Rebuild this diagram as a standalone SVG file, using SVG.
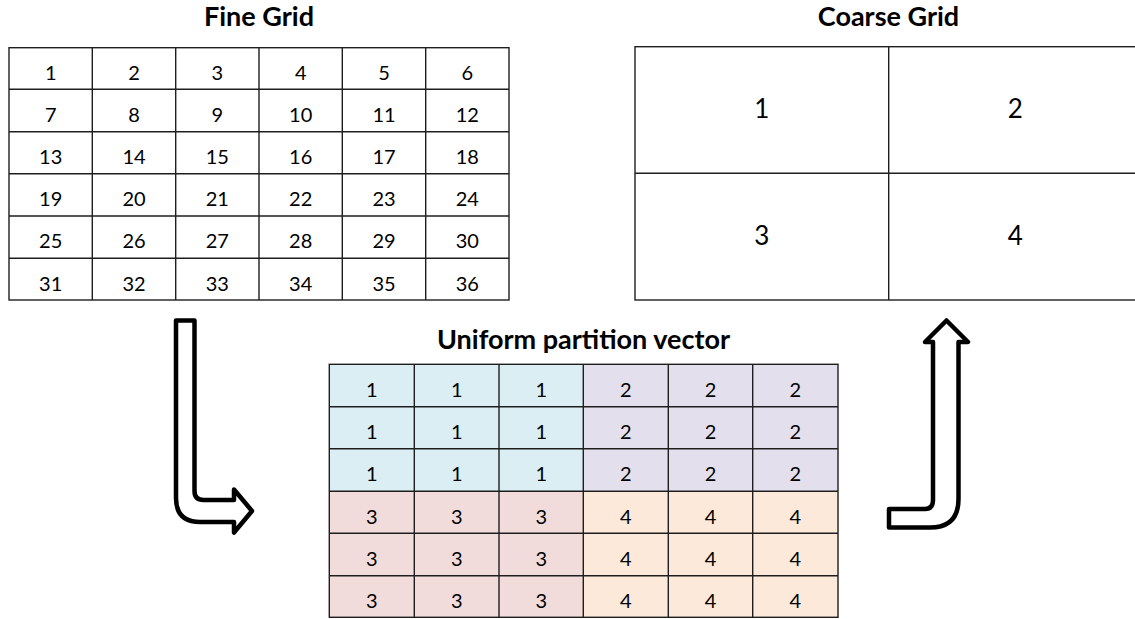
<svg xmlns="http://www.w3.org/2000/svg" width="1135" height="619" viewBox="0 0 1135 619">
<style>
.t{font-family:Lato,"Open Sans","Liberation Sans",sans-serif;font-weight:bold;font-size:27px;fill:#000;text-anchor:middle}
.n{font-family:Lato,"Open Sans","Liberation Sans",sans-serif;font-size:20px;fill:#000;text-anchor:middle}
.nb{font-family:Lato,"Open Sans","Liberation Sans",sans-serif;font-size:26px;fill:#000;text-anchor:middle}
.g{stroke:#1e1e1e;stroke-width:1.4;fill:none}
.arr{stroke:#000;stroke-width:4.5;fill:#fff;stroke-linejoin:round}
</style>
<rect width="1135" height="619" fill="#fff"/>
<g id="fine-grid">
<text class="t" x="259" y="26">Fine Grid</text>
<g class="g">
<rect x="9" y="47.7" width="500" height="252.3"/>
<path d="M92.3,47.7V300M175.7,47.7V300M259,47.7V300M342.3,47.7V300M425.7,47.7V300M9,89.3H509M9,131.7H509M9,173.7H509M9,216H509M9,258.3H509"/>
</g>
<g class="n">
<text x="50.7" y="80">1</text><text x="134" y="80">2</text><text x="217.3" y="80">3</text><text x="300.7" y="80">4</text><text x="384" y="80">5</text><text x="467.3" y="80">6</text>
<text x="50.7" y="121.7">7</text><text x="134" y="121.7">8</text><text x="217.3" y="121.7">9</text><text x="300.7" y="121.7">10</text><text x="384" y="121.7">11</text><text x="467.3" y="121.7">12</text>
<text x="50.7" y="164">13</text><text x="134" y="164">14</text><text x="217.3" y="164">15</text><text x="300.7" y="164">16</text><text x="384" y="164">17</text><text x="467.3" y="164">18</text>
<text x="50.7" y="206">19</text><text x="134" y="206">20</text><text x="217.3" y="206">21</text><text x="300.7" y="206">22</text><text x="384" y="206">23</text><text x="467.3" y="206">24</text>
<text x="50.7" y="248.4">25</text><text x="134" y="248.4">26</text><text x="217.3" y="248.4">27</text><text x="300.7" y="248.4">28</text><text x="384" y="248.4">29</text><text x="467.3" y="248.4">30</text>
<text x="50.7" y="290.7">31</text><text x="134" y="290.7">32</text><text x="217.3" y="290.7">33</text><text x="300.7" y="290.7">34</text><text x="384" y="290.7">35</text><text x="467.3" y="290.7">36</text>
</g>
</g>
<g id="coarse-grid">
<text class="t" x="888.5" y="26">Coarse Grid</text>
<g class="g">
<rect x="635" y="46.7" width="507" height="253.3"/>
<path d="M888.7,46.7V300M635,173.3H1142"/>
</g>
<g class="nb">
<text x="761.8" y="117.5">1</text><text x="1015.3" y="117.5">2</text>
<text x="761.8" y="245">3</text><text x="1015.3" y="245">4</text>
</g>
</g>
<g id="partition-vector">
<text class="t" x="583.5" y="349">Uniform partition vector</text>
<rect x="329.3" y="364.3" width="254" height="127" fill="#DAEEF3"/>
<rect x="583.3" y="364.3" width="254.7" height="127" fill="#E4DFEC"/>
<rect x="329.3" y="491.3" width="254" height="126" fill="#F2DCDB"/>
<rect x="583.3" y="491.3" width="254.7" height="126" fill="#FDE9D9"/>
<g class="g">
<rect x="329.3" y="364.3" width="508.7" height="253"/>
<path d="M414.3,364.3V617.3M499,364.3V617.3M583.3,364.3V617.3M668.3,364.3V617.3M752.7,364.3V617.3M329.3,406.7H838M329.3,448.7H838M329.3,491.3H838M329.3,533.3H838M329.3,575.7H838"/>
</g>
<g class="n">
<text x="371.8" y="396.7">1</text><text x="456.7" y="396.7">1</text><text x="541.2" y="396.7">1</text><text x="625.8" y="396.7">2</text><text x="710.5" y="396.7">2</text><text x="795.3" y="396.7">2</text>
<text x="371.8" y="439">1</text><text x="456.7" y="439">1</text><text x="541.2" y="439">1</text><text x="625.8" y="439">2</text><text x="710.5" y="439">2</text><text x="795.3" y="439">2</text>
<text x="371.8" y="481">1</text><text x="456.7" y="481">1</text><text x="541.2" y="481">1</text><text x="625.8" y="481">2</text><text x="710.5" y="481">2</text><text x="795.3" y="481">2</text>
<text x="371.8" y="523.7">3</text><text x="456.7" y="523.7">3</text><text x="541.2" y="523.7">3</text><text x="625.8" y="523.7">4</text><text x="710.5" y="523.7">4</text><text x="795.3" y="523.7">4</text>
<text x="371.8" y="565.7">3</text><text x="456.7" y="565.7">3</text><text x="541.2" y="565.7">3</text><text x="625.8" y="565.7">4</text><text x="710.5" y="565.7">4</text><text x="795.3" y="565.7">4</text>
<text x="371.8" y="608">3</text><text x="456.7" y="608">3</text><text x="541.2" y="608">3</text><text x="625.8" y="608">4</text><text x="710.5" y="608">4</text><text x="795.3" y="608">4</text>
</g>
</g>
<g id="connectors">
<path class="arr" d="M176,320.5H194.5V491Q194.5,500 203.5,500H234V489.5L252,511L234,532.5V522H200Q176,522 176,498Z"/>
<path class="arr" d="M889,509H925Q933,509 933,500V342H925L946.5,320.5L968,342H958.5V499Q958.5,527.5 930,527.5H889Z"/>
</g>
</svg>
